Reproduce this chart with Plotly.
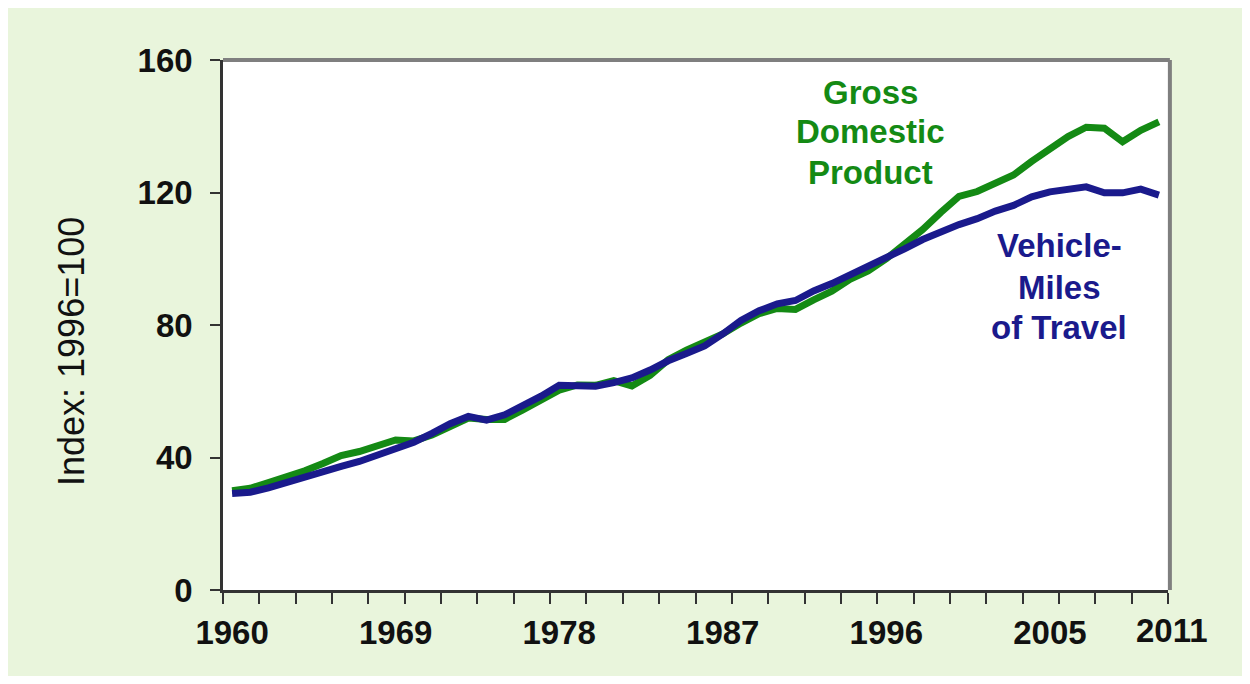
import plotly.graph_objects as go

years = list(range(1960, 2012))

gdp = [30.0, 30.7, 32.4, 34.0, 36.0, 38.2, 40.6, 41.8, 43.4, 45.3,
       45.0, 46.8, 49.3, 51.9, 51.5, 51.5, 54.4, 57.2, 60.3, 61.9,
       61.8, 63.2, 61.6, 64.8, 69.5, 72.4, 74.8, 77.3, 80.6, 83.4,
       85.0, 84.7, 87.6, 90.2, 93.8, 96.3, 100.0, 104.5, 108.8, 114.0,
       118.8, 120.3, 122.6, 125.3, 129.4, 133.4, 136.9, 139.7, 139.4, 135.3,
       138.8, 141.3]

vmt = [29.1, 29.5, 30.8, 32.5, 34.3, 35.9, 37.3, 38.8, 40.8, 42.8,
       44.6, 47.3, 50.2, 52.4, 51.3, 52.9, 55.6, 58.5, 61.8, 61.6,
       61.5, 62.6, 64.0, 66.4, 69.2, 71.4, 73.7, 77.3, 81.4, 84.3,
       86.4, 87.4, 90.3, 92.5, 95.0, 97.6, 100.0, 103.0, 105.8, 108.3,
       110.3, 112.1, 114.4, 116.1, 118.7, 120.2, 120.9, 121.7, 119.9, 119.9,
       121.0, 119.2]

x_label_years = [1960, 1969, 1978, 1987, 1996, 2005]
last_year_label = "2011"
y_ticks = [0, 40, 80, 120, 160]
y_title = "Index: 1996=100"
gdp_label = ["Gross", "Domestic", "Product"]
vmt_label = ["Vehicle-", "Miles", "of Travel"]

GREEN = "#148a14"
NAVY = "#1a1a8c"
FONT = "Arial, Liberation Sans, sans-serif"
AXIS = "#333333"

# page has an 8px body margin; figure is placed at (8, 8)
OFF = 8
W, H = 1250 - 2 * OFF, 684 - 2 * OFF
L, T = 223 - OFF, 60 - OFF
R = W - (1168 - OFF)
B = H - (590 - OFF)
PW, PH = W - L - R, H - T - B


def px_x(px):
    return (px - OFF - L) / PW


def px_y(py):
    return (H - B - (py - OFF)) / PH


fig = go.Figure()
fig.add_trace(go.Scatter(x=years, y=gdp, mode="lines",
                         line=dict(color=GREEN, width=7), name="Gross Domestic Product"))
fig.add_trace(go.Scatter(x=years, y=vmt, mode="lines",
                         line=dict(color=NAVY, width=7), name="Vehicle-Miles of Travel"))

minor_ticks = [y - 0.5 for y in range(1960, 2013, 2)]

fig.update_layout(
    width=W, height=H,
    margin=dict(l=L, r=R, t=T, b=B, pad=0),
    paper_bgcolor="#e9f5dc",
    plot_bgcolor="white",
    showlegend=False,
    xaxis=dict(
        range=[1959.5, 2011.5],
        tickmode="array", tickvals=x_label_years,
        ticktext=[str(v) for v in x_label_years],
        ticks="", showgrid=False, zeroline=False,
        showline=True, linecolor=AXIS, linewidth=2.5,
        tickfont=dict(family=FONT, size=33, color="#111111", weight="bold"),
        ticklabelstandoff=12,
        minor=dict(tickmode="array", tickvals=minor_ticks, ticks="outside",
                   ticklen=11, tickwidth=2, tickcolor=AXIS, showgrid=False),
    ),
    yaxis=dict(
        range=[0, 160],
        tickmode="array", tickvals=y_ticks,
        ticks="outside", ticklen=10, tickwidth=2, tickcolor=AXIS,
        showgrid=False, zeroline=False,
        showline=True, linecolor=AXIS, linewidth=2.5,
        tickfont=dict(family=FONT, size=33, color="#111111", weight="bold"),
        ticklabelstandoff=11,
    ),
)

# gray top & right frame
fig.add_shape(type="line", xref="paper", yref="paper", x0=0, x1=1.002, y0=1.0, y1=1.0,
              line=dict(color="#7f7f7f", width=4), layer="above")
fig.add_shape(type="line", xref="paper", yref="paper", x0=1.002, x1=1.002, y0=0, y1=1.0,
              line=dict(color="#7f7f7f", width=4), layer="above")

# last x label (slightly offset in the original)
fig.add_annotation(x=2011, y=0, xref="x", yref="paper", text=last_year_label,
                   showarrow=False, xanchor="center", yanchor="top",
                   xshift=13, yshift=-20,
                   font=dict(family=FONT, size=33, color="#111111", weight="bold"))

# y-axis title
fig.add_annotation(x=px_x(71), y=px_y(352), xref="paper", yref="paper",
                   text=y_title, textangle=-90, showarrow=False,
                   xanchor="center", yanchor="middle",
                   font=dict(family=FONT, size=36, color="#111111"))

# series labels
for txt, py in zip(gdp_label, [92, 132, 173]):
    fig.add_annotation(x=px_x(870), y=px_y(py), xref="paper", yref="paper",
                       text=txt, showarrow=False, xanchor="center", yanchor="middle",
                       font=dict(family=FONT, size=33, color=GREEN, weight="bold"))
for txt, py in zip(vmt_label, [245, 287, 327]):
    fig.add_annotation(x=px_x(1059), y=px_y(py), xref="paper", yref="paper",
                       text=txt, showarrow=False, xanchor="center", yanchor="middle",
                       font=dict(family=FONT, size=33, color=NAVY, weight="bold"))

fig.write_html("out.html")
